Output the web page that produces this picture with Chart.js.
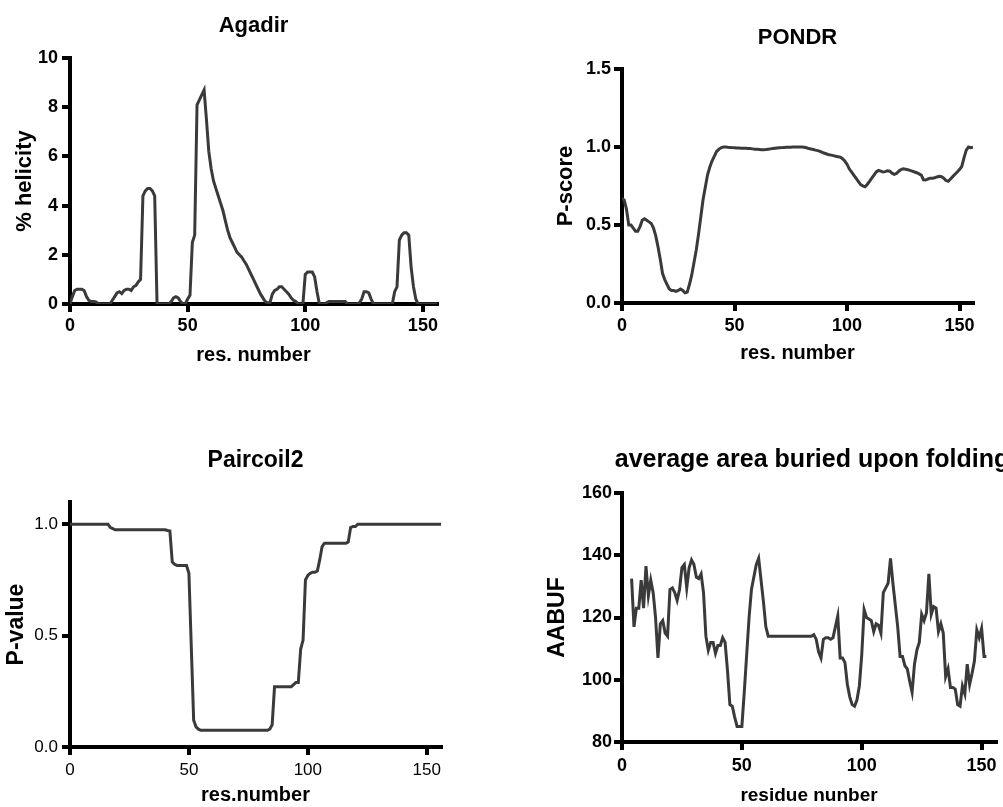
<!DOCTYPE html>
<html>
<head>
<meta charset="utf-8">
<script src="https://cdn.jsdelivr.net/npm/chart.js@4.4.0/dist/chart.umd.min.js"></script>
<style>
  body { margin: 0; background: #fff; }
  #wrap { position: relative; width: 1003px; height: 807px; overflow: hidden; background: #fff; }
  canvas { position: absolute; }
</style>
</head>
<body>
<div id="wrap">
  <canvas id="agadir" width="460" height="380" style="left:0;top:0"></canvas>
  <canvas id="pondr" width="463" height="380" style="left:540px;top:0"></canvas>
  <canvas id="paircoil" width="460" height="407" style="left:0;top:400px"></canvas>
  <canvas id="aabuf" width="463" height="407" style="left:540px;top:400px"></canvas>
</div>
<script>
// % helicity per residue, residues 0..156
var agadirStart = 0;
var agadirVal = [
  0, 0.3, 0.55, 0.6, 0.6, 0.6, 0.55, 0.3, 0.15, 0.1,
  0.1, 0.08, 0.02, 0, 0, 0, 0, 0, 0.15, 0.3,
  0.45, 0.5, 0.42, 0.55, 0.6, 0.6, 0.55, 0.7, 0.75, 0.9,
  1.0, 4.4, 4.6, 4.7, 4.7, 4.6, 4.4, 0, 0, 0,
  0, 0, 0, 0.1, 0.25, 0.3, 0.25, 0.1, 0, 0,
  0.2, 0.35, 2.5, 2.8, 8.1, 8.3, 8.5, 8.7, 7.5, 6.2,
  5.5, 5.0, 4.7, 4.4, 4.1, 3.8, 3.4, 3.0, 2.7, 2.5,
  2.3, 2.1, 2.0, 1.9, 1.75, 1.6, 1.4, 1.2, 1.0, 0.8,
  0.6, 0.4, 0.25, 0.1, 0.05, 0.05, 0.4, 0.55, 0.6, 0.7,
  0.7, 0.6, 0.5, 0.4, 0.25, 0.15, 0.1, 0, 0, 0,
  1.2, 1.3, 1.3, 1.3, 1.1, 0.5, 0, 0, 0, 0.05,
  0.1, 0.1, 0.1, 0.1, 0.1, 0.1, 0.1, 0.1, 0, 0,
  0, 0, 0, 0.05, 0.2, 0.5, 0.5, 0.45, 0.2, 0,
  0, 0, 0, 0, 0, 0, 0, 0, 0.5, 0.7,
  2.6, 2.8, 2.9, 2.9, 2.8, 1.5, 0.7, 0.2, 0, 0,
  0, 0, 0, 0, 0, 0, 0
];

// PONDR P-score, residues 0..156
var pondrStart = 0;
var pondrVal = [
  0.67, 0.66, 0.6, 0.5, 0.5, 0.48, 0.46, 0.46, 0.49, 0.53,
  0.54, 0.53, 0.52, 0.51, 0.48, 0.43, 0.36, 0.28, 0.19, 0.15,
  0.12, 0.09, 0.08, 0.08, 0.075, 0.08, 0.09, 0.08, 0.065, 0.07,
  0.12, 0.18, 0.26, 0.34, 0.44, 0.55, 0.66, 0.74, 0.82, 0.87,
  0.91, 0.94, 0.97, 0.985, 0.995, 1.0, 1.0, 0.998, 0.997, 0.996,
  0.995, 0.994, 0.993, 0.992, 0.992, 0.992, 0.991, 0.99, 0.988, 0.986,
  0.985, 0.984, 0.983, 0.983, 0.984, 0.986, 0.988, 0.99, 0.992, 0.994,
  0.995, 0.996, 0.997, 0.998, 0.998, 0.999, 1.0, 1.0, 1.0, 1.0,
  1.0, 0.998, 0.995, 0.99, 0.987, 0.984, 0.98, 0.977, 0.972, 0.965,
  0.96, 0.955, 0.95, 0.948, 0.945, 0.94, 0.938, 0.935, 0.925, 0.91,
  0.89, 0.86, 0.84, 0.82, 0.8, 0.78, 0.76, 0.75, 0.745, 0.76,
  0.78, 0.8, 0.82, 0.84, 0.85, 0.845, 0.84, 0.842, 0.848, 0.845,
  0.832, 0.825, 0.83, 0.845, 0.855, 0.86, 0.858, 0.854, 0.85, 0.845,
  0.84, 0.835, 0.828, 0.82, 0.79, 0.788, 0.795, 0.8, 0.8, 0.803,
  0.808, 0.812, 0.81, 0.8, 0.785, 0.78, 0.795, 0.81, 0.825, 0.84,
  0.855, 0.875, 0.93, 0.98, 1.0, 0.995, 0.998
];

// Paircoil2 P-value, residues 0..156
var paircoilStart = 0;
var paircoilVal = [
  1.0, 1.0, 1.0, 1.0, 1.0, 1.0, 1.0, 1.0, 1.0, 1.0,
  1.0, 1.0, 1.0, 1.0, 1.0, 1.0, 1.0, 0.985, 0.98, 0.975,
  0.975, 0.975, 0.975, 0.975, 0.975, 0.975, 0.975, 0.975, 0.975, 0.975,
  0.975, 0.975, 0.975, 0.975, 0.975, 0.975, 0.975, 0.975, 0.975, 0.975,
  0.975, 0.972, 0.97, 0.83, 0.82, 0.815, 0.815, 0.815, 0.815, 0.815,
  0.78, 0.45, 0.12, 0.09, 0.08, 0.075, 0.075, 0.075, 0.075, 0.075,
  0.075, 0.075, 0.075, 0.075, 0.075, 0.075, 0.075, 0.075, 0.075, 0.075,
  0.075, 0.075, 0.075, 0.075, 0.075, 0.075, 0.075, 0.075, 0.075, 0.075,
  0.075, 0.075, 0.075, 0.075, 0.08, 0.1, 0.27, 0.27, 0.27, 0.27,
  0.27, 0.27, 0.27, 0.27, 0.28, 0.29, 0.29, 0.44, 0.48, 0.75,
  0.77, 0.78, 0.785, 0.785, 0.79, 0.84, 0.9, 0.915, 0.915, 0.915,
  0.915, 0.915, 0.915, 0.915, 0.915, 0.915, 0.915, 0.92, 0.985, 0.99,
  0.99, 1.0, 1.0, 1.0, 1.0, 1.0, 1.0, 1.0, 1.0, 1.0,
  1.0, 1.0, 1.0, 1.0, 1.0, 1.0, 1.0, 1.0, 1.0, 1.0,
  1.0, 1.0, 1.0, 1.0, 1.0, 1.0, 1.0, 1.0, 1.0, 1.0,
  1.0, 1.0, 1.0, 1.0, 1.0, 1.0, 1.0
];

// average area buried upon folding, residues 4..152
var aabufStart = 4;
var aabufVal = [
  132.5, 117, 123, 123, 132, 123, 136.5, 127, 132, 128,
  120, 107, 118, 119, 115, 114, 129, 129.5, 128, 125.5,
  129, 136, 137, 129.5, 136, 138.5, 137, 133, 132.5, 134,
  128, 114, 109.5, 112, 112, 108.5, 111, 111, 113.5, 112,
  103, 92, 91.5, 88, 85, 85, 85, 96, 108, 120,
  129, 133, 137, 139, 132, 125, 117, 114, 114, 114,
  114, 114, 114, 114, 114, 114, 114, 114, 114, 114,
  114, 114, 114, 114, 114, 114, 114.5, 113, 109, 107,
  113, 113.5, 113.5, 113, 113.5, 117, 120.5, 107, 107, 105.5,
  98.5, 94.5, 92, 91.5, 93.5, 98, 108, 122.5, 120, 119.5,
  119, 115.5, 118, 117.5, 115, 128, 129.5, 131, 139, 131,
  124, 117, 107.5, 107.5, 104.5, 103.5, 99.5, 96, 105, 109.5,
  112, 121, 119, 121.5, 134, 121, 123.5, 123, 115.5, 118,
  115, 101, 103.5, 97.5, 97.5, 97, 92, 91.5, 98, 95.5,
  105, 98.5, 102, 106, 116, 113.5, 116.5, 107.5, 107.5
];

var xTicks = [0, 50, 100, 150];

var FONT = '"Liberation Sans", Arial, Helvetica, sans-serif';
var LINE = '#3a3a3a';
Chart.defaults.font.family = FONT;
Chart.defaults.color = '#000';

// panel heading centred over the plot area
var panelTitle = {
  id: 'panelTitle',
  afterDraw: function (chart, args, opts) {
    var a = chart.chartArea, ctx = chart.ctx;
    ctx.save();
    ctx.font = 'bold ' + opts.size + 'px ' + FONT;
    ctx.fillStyle = '#000';
    ctx.textAlign = 'center';
    ctx.textBaseline = 'middle';
    ctx.fillText(opts.text, (a.left + a.right) / 2 + (opts.dx || 0), opts.y);
    ctx.restore();
  }
};

function points(start, vals) {
  return vals.map(function (v, i) { return { x: start + i, y: v }; });
}

function makePanel(id, c) {
  var tickWeight = c.boldTicks ? 'bold' : 'normal';
  return new Chart(document.getElementById(id), {
    type: 'line',
    data: {
      datasets: [{
        data: points(c.start, c.vals),
        borderColor: LINE,
        borderWidth: 3,
        pointRadius: 0,
        tension: 0,
        fill: false
      }]
    },
    options: {
      responsive: false,
      animation: false,
      layout: { padding: c.pad },
      plugins: {
        legend: { display: false },
        tooltip: { enabled: false },
        panelTitle: { text: c.title, size: c.titleSize, y: c.titleY, dx: c.titleDx }
      },
      scales: {
        x: {
          type: 'linear',
          min: 0,
          max: c.xMax,
          afterFit: function (s) { s.height = c.xH; },
          afterBuildTicks: function (s) { s.ticks = xTicks.map(function (v) { return { value: v }; }); },
          ticks: {
            font: { size: c.xTickSize, weight: tickWeight },
            padding: c.xTickPad,
            maxRotation: 0,
            color: '#000'
          },
          grid: { drawOnChartArea: false, drawTicks: true, tickLength: 8, tickWidth: c.axisW, tickColor: '#000', color: '#000', lineWidth: c.axisW },
          border: { display: true, color: '#000', width: c.axisW },
          title: { display: true, text: c.xTitle, font: { size: c.xTitleSize, weight: 'bold' }, padding: { top: 0, bottom: c.xTitlePad }, color: '#000' }
        },
        y: {
          min: c.yMin,
          max: c.yMax,
          afterFit: function (s) { s.width = c.yW; },
          afterBuildTicks: function (s) { s.ticks = c.yTicks.map(function (v) { return { value: v }; }); },
          ticks: {
            font: { size: c.yTickSize, weight: tickWeight },
            padding: c.yTickPad,
            color: '#000',
            callback: function (v) { return c.yDec ? Number(v).toFixed(c.yDec) : String(v); }
          },
          grid: { drawOnChartArea: false, drawTicks: true, tickLength: 8, tickWidth: c.axisW, tickColor: '#000', color: '#000', lineWidth: c.axisW },
          border: { display: true, color: '#000', width: c.axisW },
          title: { display: true, text: c.yTitle, font: { size: c.yTitleSize, weight: 'bold' }, padding: { top: c.yTitlePad, bottom: 0 }, color: '#000' }
        }
      }
    },
    plugins: [panelTitle]
  });
}

makePanel('agadir', {
  start: agadirStart, vals: agadirVal,
  title: 'Agadir', titleSize: 22, titleY: 26,
  pad: { top: 58, right: 23, bottom: 9, left: 0 },
  xMax: 156, xH: 67, yW: 70,
  yMin: 0, yMax: 10, yTicks: [0, 2, 4, 6, 8, 10], yDec: 0,
  boldTicks: true, xTickSize: 18, yTickSize: 18, xTickPad: 3, yTickPad: 4,
  xTitle: 'res. number', xTitleSize: 20, xTitlePad: 4,
  yTitle: '% helicity', yTitleSize: 22, yTitlePad: 12,
  axisW: 4
});

makePanel('pondr', {
  start: pondrStart, vals: pondrVal,
  title: 'PONDR', titleSize: 22, titleY: 38,
  pad: { top: 69, right: 30, bottom: 11, left: 0 },
  xMax: 156, xH: 66, yW: 82,
  yMin: 0, yMax: 1.5, yTicks: [0, 0.5, 1, 1.5], yDec: 1,
  boldTicks: true, xTickSize: 18, yTickSize: 18, xTickPad: 4, yTickPad: 3,
  xTitle: 'res. number', xTitleSize: 20, xTitlePad: 4,
  yTitle: 'P-score', yTitleSize: 22, yTitlePad: 13,
  axisW: 4
});

makePanel('paircoil', {
  start: paircoilStart, vals: paircoilVal,
  title: 'Paircoil2', titleSize: 23, titleY: 61,
  pad: { top: 102, right: 19, bottom: 0, left: 0 },
  xMax: 156, xH: 60, yW: 70,
  yMin: 0, yMax: 1.1, yTicks: [0, 0.5, 1], yDec: 1,
  boldTicks: false, xTickSize: 17, yTickSize: 17, xTickPad: 5, yTickPad: 4,
  xTitle: 'res.number', xTitleSize: 20, xTitlePad: 0,
  yTitle: 'P-value', yTitleSize: 23, yTitlePad: 3,
  axisW: 4
});

makePanel('aabuf', {
  start: aabufStart, vals: aabufVal,
  title: 'average area buried upon folding', titleSize: 25, titleY: 60, titleDx: 3,
  pad: { top: 93, right: 7, bottom: 0, left: 0 },
  xMax: 156, xH: 65, yW: 82,
  yMin: 80, yMax: 160, yTicks: [80, 100, 120, 140, 160], yDec: 0,
  boldTicks: true, xTickSize: 18, yTickSize: 18, xTickPad: 5, yTickPad: 2,
  xTitle: 'residue nunber', xTitleSize: 19, xTitlePad: 0,
  yTitle: 'AABUF', yTitleSize: 23, yTitlePad: 4,
  axisW: 4
});
</script>
</body>
</html>
